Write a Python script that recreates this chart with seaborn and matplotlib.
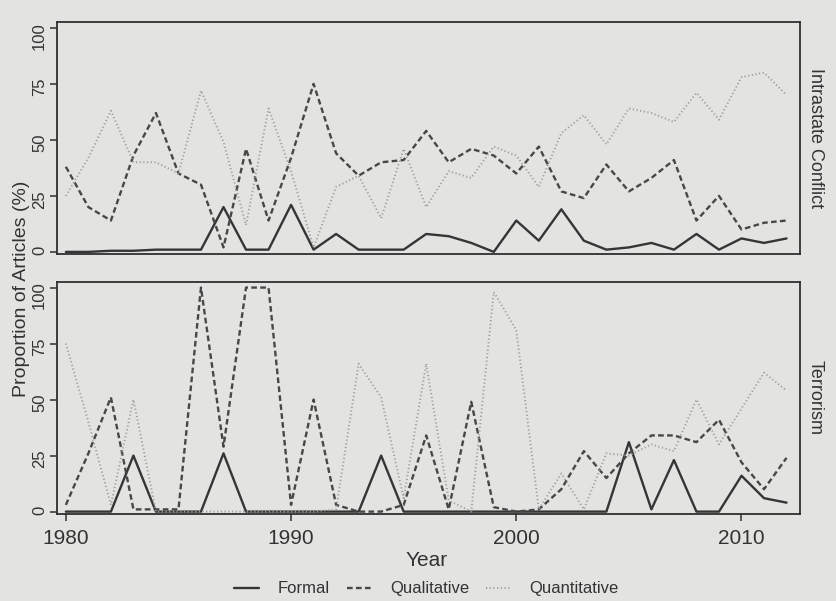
import pandas as pd
import matplotlib.pyplot as plt
from matplotlib.lines import Line2D
import seaborn as sns

# values (percent of articles per year)
years = [1980, 1981, 1982, 1983, 1984, 1985, 1986, 1987, 1988, 1989, 1990,
         1991, 1992, 1993, 1994, 1995, 1996, 1997, 1998, 1999, 2000,
         2001, 2002, 2003, 2004, 2005, 2006, 2007, 2008, 2009, 2010,
         2011, 2012]
methods = ['Formal', 'Qualitative', 'Quantitative']
topics = ['Intrastate Conflict', 'Terrorism']

formal_intrastate = [0, 0, 0.5, 0.5, 1, 1, 1, 20, 1, 1, 21, 1, 8, 1, 1, 1, 8,
                     7, 4, 0, 14, 5, 19, 5, 1, 2, 4, 1, 8, 1, 6, 4, 6]
qual_intrastate = [38, 20, 14, 43, 62, 35, 30, 2, 46, 14, 42, 75, 44, 34, 40,
                   41, 54, 40, 46, 43, 35, 47, 27, 24, 39, 27, 33, 41, 14, 25,
                   10, 13, 14]
quant_intrastate = [25, 42, 63, 40, 40, 35, 72, 49, 12, 64, 36, 2, 29, 34, 15,
                    46, 20, 36, 33, 47, 43, 29, 53, 61, 48, 64, 62, 58, 71, 59,
                    78, 80, 70]

formal_terror = [0, 0, 0, 25, 0, 0, 0, 26, 0, 0, 0, 0, 0, 0, 25, 0, 0, 0, 0,
                 0, 0, 0, 0, 0, 0, 31, 1, 23, 0, 0, 16, 6, 4]
qual_terror = [3, 26, 51, 1, 1, 1, 100, 29, 100, 100, 3, 50, 3, 0, 0, 3, 34, 1,
               49, 2, 0, 1, 10, 27, 15, 26, 34, 34, 31, 41, 22, 10, 24]
quant_terror = [75, 40, 3, 50, 0, 0, 0, 0, 0, 0, 0, 0, 1, 66, 51, 6, 66, 5, 0,
                98, 81, 1, 17, 1, 26, 25, 30, 27, 50, 30, 46, 62, 54]

series = {
    'Intrastate Conflict': [formal_intrastate, qual_intrastate, quant_intrastate],
    'Terrorism': [formal_terror, qual_terror, quant_terror],
}
rows = []
for topic in topics:
    for method, vals in zip(methods, series[topic]):
        for yr, v in zip(years, vals):
            rows.append((topic, method, yr, v))
data = pd.DataFrame(rows, columns=['topic', 'method', 'year', 'pct'])

sns.set_theme(style='white')
plt.rcParams['font.family'] = ['Liberation Sans', 'DejaVu Sans']

paper = '#e3e3e1'
ink = '#2f2f2f'
palette = {'Formal': '#353535', 'Qualitative': '#474747', 'Quantitative': '#9c9c9c'}
dashes = {'Formal': '', 'Qualitative': (2.4, 1.4), 'Quantitative': (0.6, 1.3)}
sizes = {'Formal': 1.7, 'Qualitative': 1.7, 'Quantitative': 1.4}

fig, axes = plt.subplots(2, 1, figsize=(8.36, 6.01), dpi=100, sharex=True,
                         facecolor=paper)
fig.subplots_adjust(left=0.068, right=0.957, top=0.963, bottom=0.145, hspace=0.12)

for ax, topic in zip(axes, topics):
    sns.lineplot(data=data[data['topic'] == topic], x='year', y='pct',
                 hue='method', style='method', size='method',
                 hue_order=methods, style_order=methods, size_order=methods,
                 palette=palette, dashes=dashes, sizes=sizes,
                 errorbar=None, legend=False, ax=ax)
    ax.set_facecolor(paper)
    ax.set_xlim(1979.6, 2012.6)
    ax.set_ylim(-1, 102.5)
    ax.set_yticks([0, 25, 50, 75, 100])
    ax.set_xlabel('')
    ax.set_ylabel('')
    for s in ax.spines.values():
        s.set_visible(True)
        s.set_color(ink)
        s.set_linewidth(1.3)
    ax.tick_params(axis='y', left=True, direction='out', length=5, width=1.1,
                   color=ink, labelsize=12, labelrotation=90, pad=2,
                   labelcolor='#333333')
    ax.text(1.009, 0.5, topic, transform=ax.transAxes, rotation=-90,
            ha='left', va='center', fontsize=13, color='#333333')

axes[0].tick_params(axis='x', bottom=False, labelbottom=False)
axes[1].set_xticks([1980, 1990, 2000, 2010])
axes[1].tick_params(axis='x', bottom=True, direction='out', length=5, width=1.1,
                    color=ink, labelsize=15, pad=6, labelcolor='#333333')

fig.text(0.026, 0.52, 'Proportion of Articles (%)', rotation=90,
         ha='center', va='center', fontsize=14, color='#333333')
fig.text(0.51, 0.068, 'Year', ha='center', va='center', fontsize=15,
         color='#333333')

handles = [Line2D([], [], color=palette[m], linewidth=sizes[m],
                  dashes=dashes[m] if dashes[m] else (None, None))
           for m in methods]
fig.legend(handles, methods, loc='center', bbox_to_anchor=(0.51, 0.02),
           ncol=3, frameon=False, fontsize=12, handlelength=1.5,
           handletextpad=1.1, columnspacing=1.0, labelcolor='#333333')

fig.savefig('out.png', dpi=100, facecolor=paper)
